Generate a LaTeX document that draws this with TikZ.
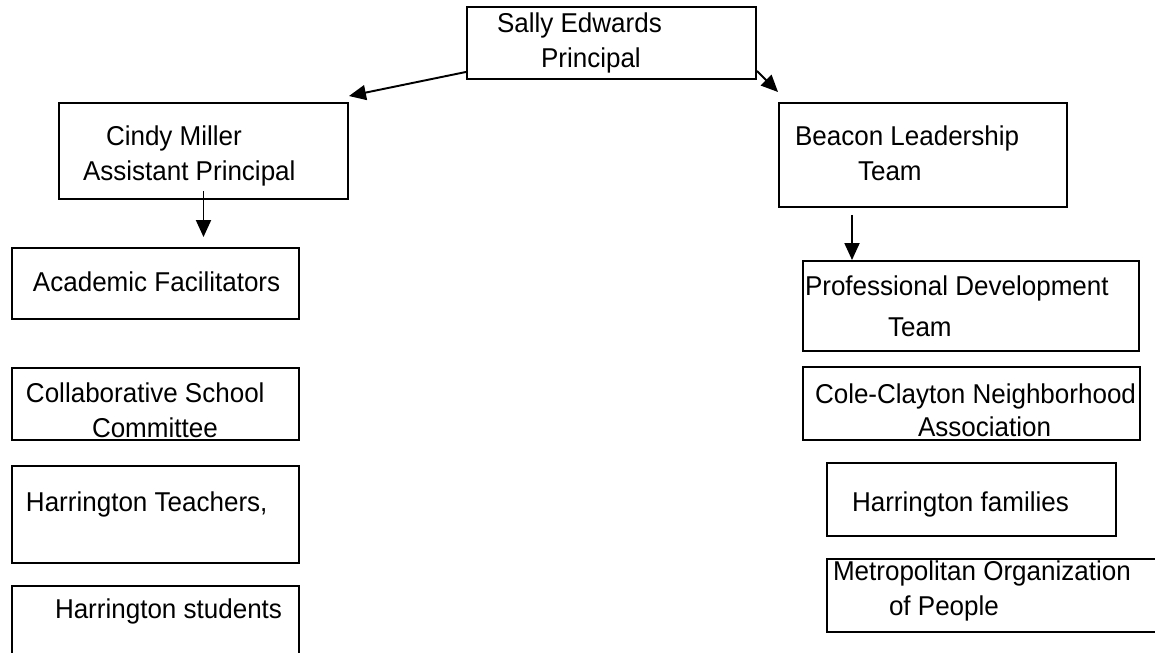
\documentclass[tikz,border=0pt]{standalone}
\usepackage{fontspec}
\setmainfont{Liberation Sans}[FakeStretch=0.955]
\usepackage{tikz}
\usetikzlibrary{arrows.meta, positioning}
% lines of a box, raised by #1, in a column as wide as the box (#2)
\newcommand{\boxlines}[3]{\raisebox{#1}[\height][\depth]{\begin{tabular}{@{}p{#2}@{}}#3\end{tabular}}}

\begin{document}
\begin{tikzpicture}[
  box/.style={rectangle, draw=black, line width=1.1pt, inner sep=0pt, font=\fontsize{15.5}{19.9}\selectfont},
  arrow/.style={-{Triangle[length=0.34cm, width=0.3cm]}, line width=1.1pt}
]
\useasboundingbox (0,0) rectangle (23.1,-13.06);

% left column
\node[box, minimum width=5.78cm, minimum height=1.44cm] (sally) at (12.23,-0.86) {\boxlines{0pt}{5.78cm}{\hspace*{0.60cm}Sally Edwards\\\hspace*{1.48cm}Principal}};
\node[box, minimum width=5.78cm, minimum height=1.92cm] (cindy) at (4.07,-3.02) {\boxlines{-2.8pt}{5.78cm}{\hspace*{0.94cm}Cindy Miller\\\hspace*{0.48cm}Assistant Principal}};
\node[box, minimum width=5.74cm, minimum height=1.42cm] (academic) at (3.11,-5.67) {\boxlines{-0.6pt}{5.74cm}{\hspace*{0.42cm}Academic Facilitators}};
\node[box, minimum width=5.74cm, minimum height=1.44cm] (collab) at (3.11,-8.08) {\boxlines{-5.1pt}{5.74cm}{\hspace*{0.28cm}Collaborative School\\\hspace*{1.60cm}Committee}};
\node[box, minimum width=5.74cm, minimum height=1.94cm] (teachers) at (3.11,-10.29) {\boxlines{5.7pt}{5.74cm}{\hspace*{0.28cm}Harrington Teachers,}};
\node[box, minimum width=5.74cm, minimum height=1.94cm] (students) at (3.11,-12.69) {\boxlines{13pt}{5.74cm}{\hspace*{0.86cm}Harrington students}};

% right column
\node[box, minimum width=5.76cm, minimum height=2.08cm] (beacon) at (18.46,-3.10) {\boxlines{-0.6pt}{5.76cm}{\hspace*{0.32cm}Beacon Leadership\\\hspace*{1.58cm}Team}};
\node[box, minimum width=6.72cm, minimum height=1.80cm] (pd) at (19.42,-6.12) {\boxlines{-1.7pt}{6.72cm}{\hspace*{0.04cm}Professional Development\\[3.4pt]\hspace*{1.70cm}Team}};
\node[box, minimum width=6.74cm, minimum height=1.46cm] (cole) at (19.43,-8.07) {\boxlines{-5.4pt}{6.74cm}{\hspace*{0.24cm}Cole-Clayton Neighborhood\\[-1.1pt]\hspace*{2.30cm}Association}};
\node[box, minimum width=5.78cm, minimum height=1.46cm] (families) at (19.43,-9.99) {\boxlines{-2.8pt}{5.78cm}{\hspace*{0.50cm}Harrington families}};
\node[box, minimum width=6.86cm, minimum height=1.46cm] (metro) at (19.97,-11.91) {\boxlines{2.3pt}{6.86cm}{\hspace*{0.12cm}Metropolitan Organization\\\hspace*{1.24cm}of People}};

% connectors
\coordinate (bt) at ([xshift=-1.42cm, yshift=-0.14cm]beacon.south);
\draw[arrow] ([yshift=0.16cm]sally.south west) -- ([yshift=0.12cm]cindy.north east);
\draw[arrow] ([yshift=0.18cm]sally.south east) -- ([yshift=0.20cm]beacon.north west);
\draw[arrow] ([yshift=0.18cm]cindy.south) -- ([yshift=0.20cm]cindy.south |- academic.north);
\draw[arrow] (bt) -- (bt |- pd.north);
\end{tikzpicture}
\end{document}
